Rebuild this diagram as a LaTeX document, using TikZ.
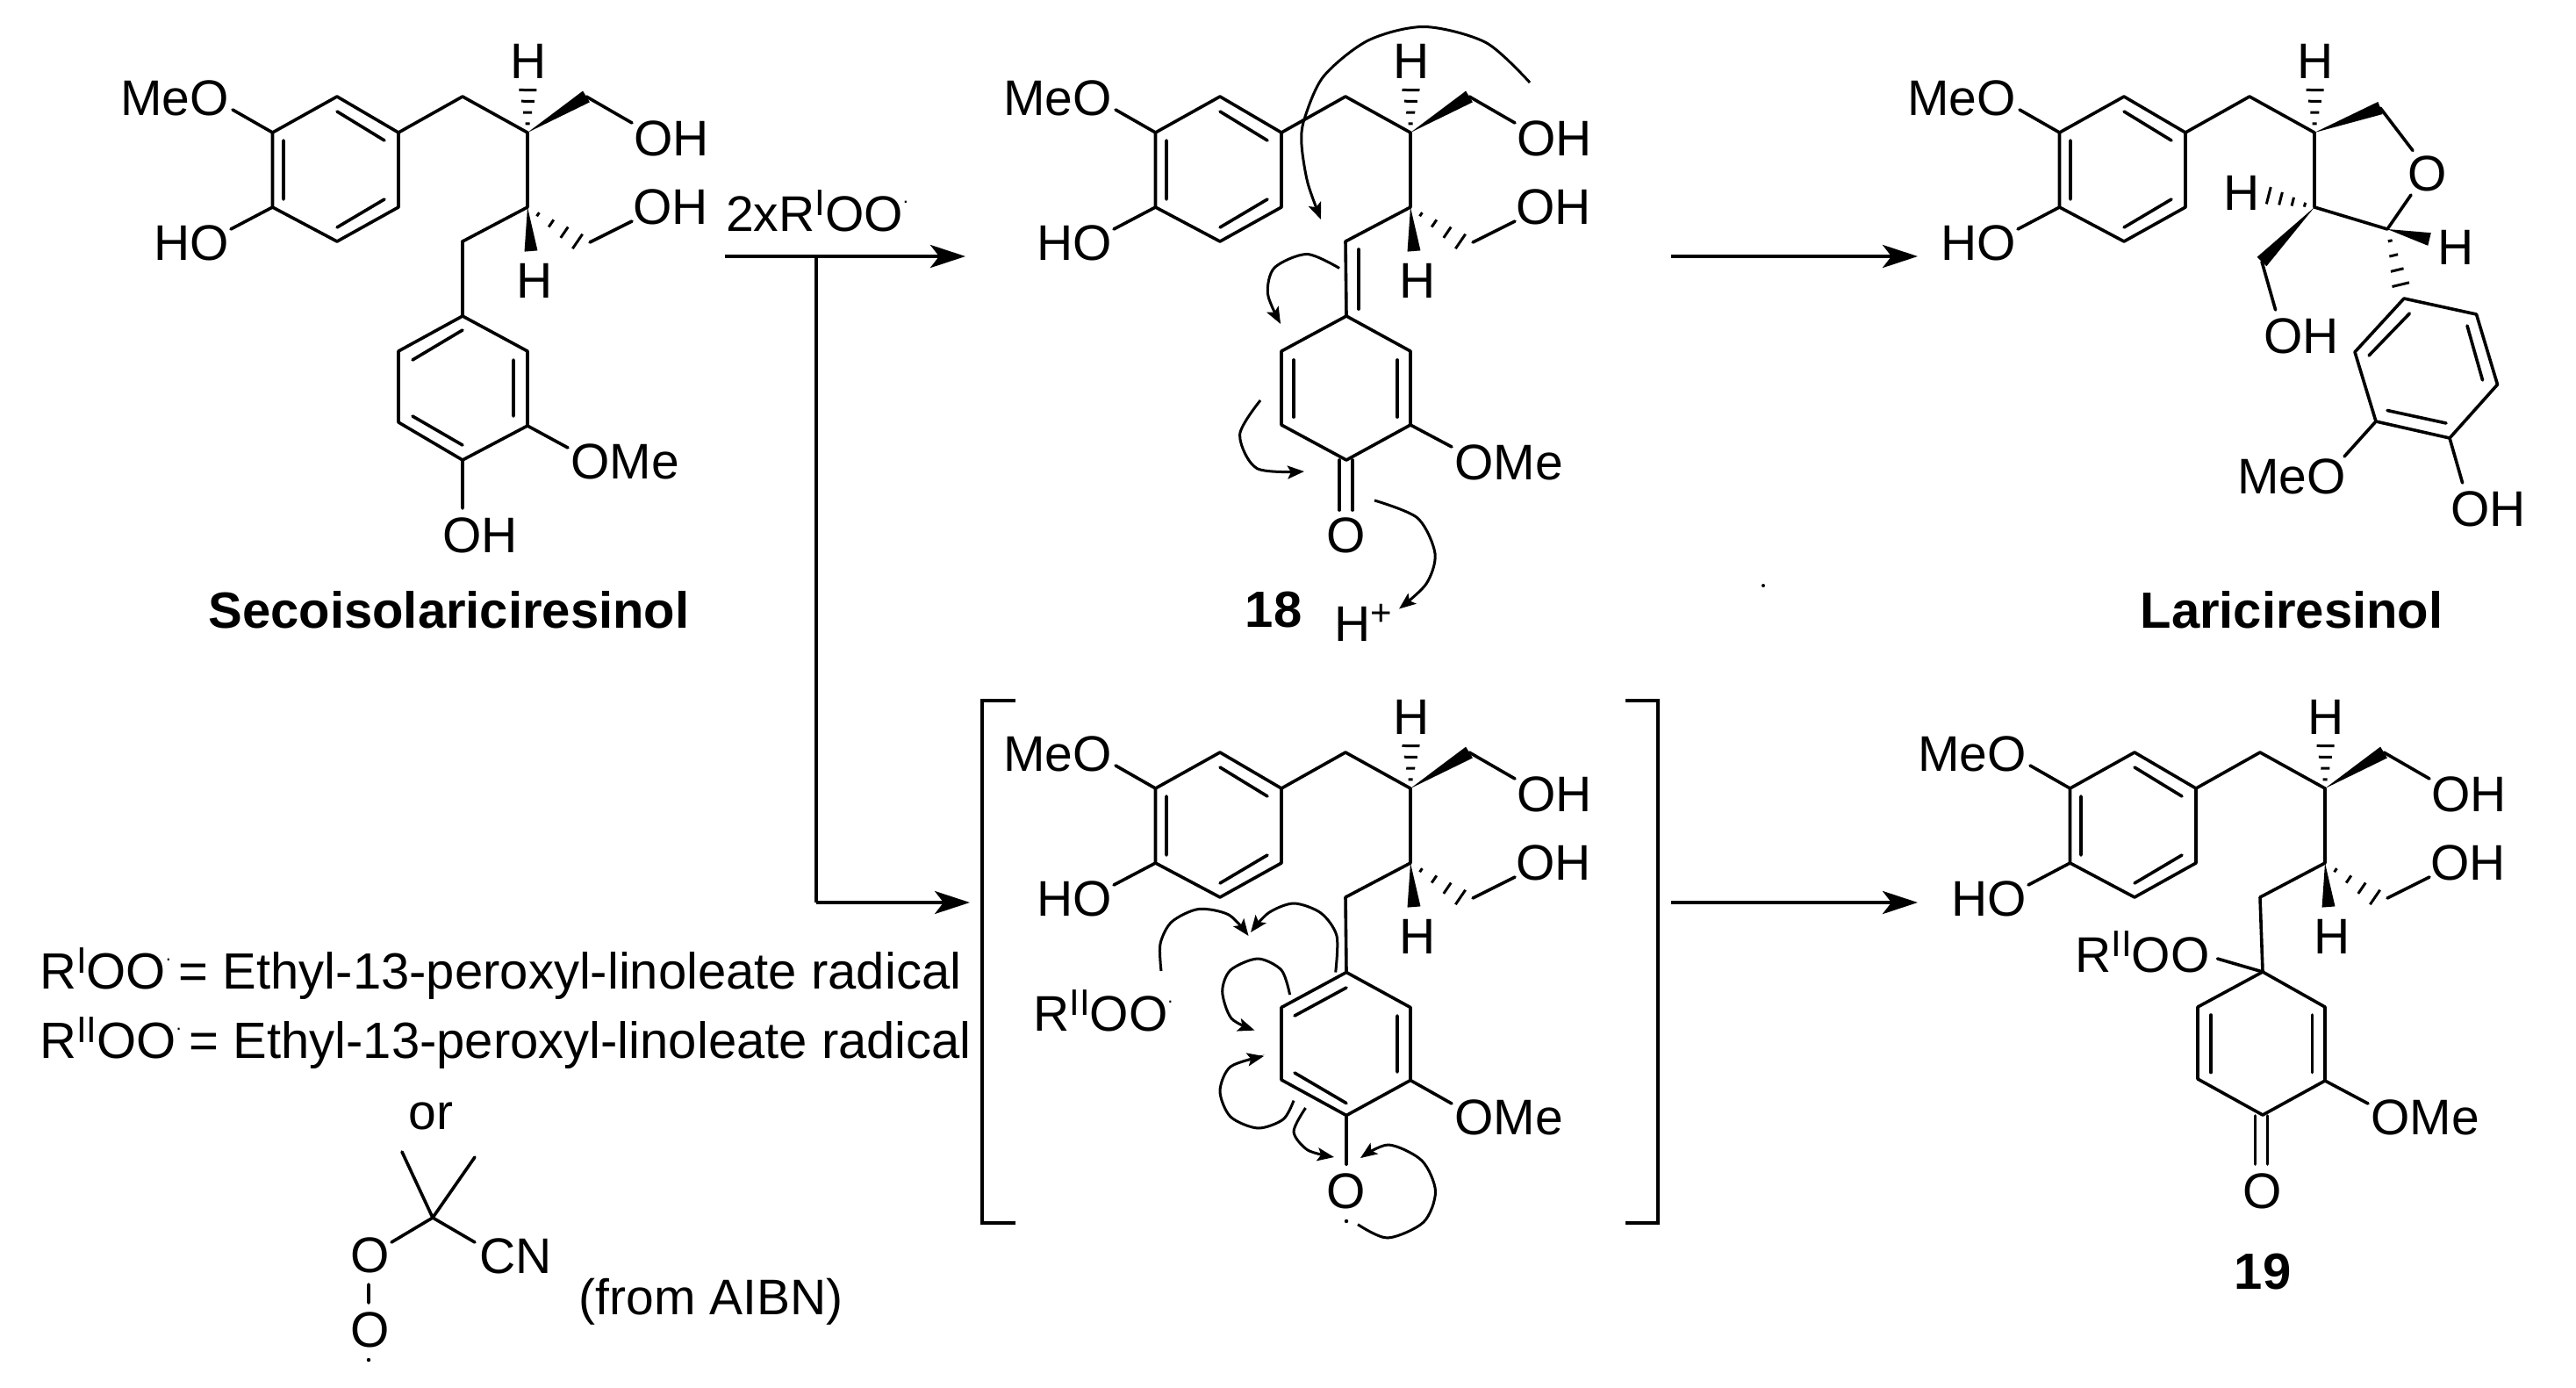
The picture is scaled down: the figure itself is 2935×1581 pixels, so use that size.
\documentclass[tikz,border=0pt]{standalone}
\usepackage{fontspec}
\setmainfont{Liberation Sans}
\usetikzlibrary{calc,arrows.meta}
\newcommand\chemsize{\fontsize{57}{60}\selectfont}
\newcommand\listsize{\fontsize{58}{62}\selectfont}
\newcommand\nameshape{\fontsize{58}{60}\selectfont\bfseries}
\newcommand\supr[1]{\raisebox{18pt}{\fontsize{42}{44}\selectfont #1}}
\newcommand\rdot{\rlap{\raisebox{32pt}{\fontsize{22}{22}\selectfont .}}}
\tikzset{
  bond/.style={line width=3.6pt,line cap=round,line join=round},
  hashline/.style={line width=3pt},
  lbl/.style={inner sep=0pt,font=\chemsize},
  namelbl/.style={inner sep=0pt,font=\nameshape},
  listlbl/.style={inner sep=0pt,font=\listsize,anchor=base west},
  mainarrow/.style={line width=4.4pt,-{Stealth[length=40pt,width=26pt,inset=10pt]}},
  curly/.style={line width=3pt,-{Stealth[length=19pt,width=15pt,inset=4pt]}},
  brack/.style={line width=4pt},
}
\newcommand\wedgeb[2]{\fill ($(#2)!7.5pt!90:(#1)$) -- (#1) -- ($(#2)!7.5pt!-90:(#1)$) -- cycle;}
\newcommand\hashb[2]{\foreach \hf/\hw in {.2/2.5,.45/5,.7/7.5,.95/10}{\coordinate (hh) at ($(#1)!\hf!(#2)$); \draw[hashline] ($(hh)!\hw pt!90:(#1)$) -- ($(hh)!\hw pt!-90:(#1)$);}}
% top aryl fragment, with the first stereocentre and the bond to the second
\newcommand\topfrag{%
  \coordinate (a1) at (310.5,151); \coordinate (a2) at (384,110); \coordinate (a3) at (454,151);
  \coordinate (a4) at (454,236); \coordinate (a5) at (384,275); \coordinate (a6) at (310.5,236);
  \coordinate (ch) at (527,110); \coordinate (c1) at (601,151); \coordinate (c2) at (601,236);
  \coordinate (ht) at (601.5,100);
  \node[lbl] (meo) at (199,112) {MeO};
  \node[lbl] (ho) at (218,277) {HO};
  \node[lbl] (h1) at (602,70) {H};
  \draw[bond] (a1) -- (a2) -- (a3) -- (a4) -- (a5) -- (a6) -- cycle;
  \draw[bond] (323,160) -- (323,227) (384,127) -- (438,160) (384,259) -- (438,227);
  \draw[bond] (a3) -- (ch) -- (c1) -- (c2);
  \draw[bond] (265,125) -- (a1) (263,261) -- (a6);
  \hashb{c1}{ht}
}
% the two CH2OH side chains
\newcommand\sidechains{%
  \coordinate (w1) at (668,110); \coordinate (e1) at (720,140);
  \coordinate (wb) at (605,286); \coordinate (hb) at (661,277);
  \coordinate (e2) at (672,276); \coordinate (e3) at (720,252); \coordinate (cb) at (527,275);
  \node[lbl] (oh1) at (765,158) {OH};
  \node[lbl] (oh2) at (764,236) {OH};
  \node[lbl] (h2) at (609,320) {H};
  \wedgeb{c1}{w1}
  \draw[bond] (w1) -- (e1) (e2) -- (e3) (c2) -- (cb);
  \wedgeb{c2}{wb}
  \hashb{c2}{hb}
}
\begin{document}
\begin{tikzpicture}[x=1pt,y=-1pt]
\useasboundingbox (0,0) rectangle (2935,1581);
\fill[white] (0,0) rectangle (2935,1581);

% ---------- Secoisolariciresinol
\begin{scope}[name prefix=ma-]
  \topfrag
  \sidechains
  \coordinate (b1) at (527,360); \coordinate (b2) at (601,400); \coordinate (b3) at (601,485);
  \coordinate (b4) at (527,524); \coordinate (b5) at (454,481); \coordinate (b6) at (454,400);
  \draw[bond] (cb) -- (b1);
  \draw[bond] (b1) -- (b2) -- (b3) -- (b4) -- (b5) -- (b6) -- cycle;
  \draw[bond] (470,410) -- (527,376) (585,410) -- (585,474) (470,474) -- (527,507);
  \node[lbl] (ome) at (712,526) {OMe};
  \node[lbl] (oh3) at (547,610) {OH};
  \draw[bond] (b3) -- (647,510) (b4) -- (527,579);
  \node[namelbl] (name) at (511.5,695) {Secoisolariciresinol};
\end{scope}

% ---------- 18
\begin{scope}[shift={(1006,0)},name prefix=mb-]
  \topfrag
  \sidechains
\end{scope}
\begin{scope}[name prefix=mb-]
  \coordinate (b1) at (1534,360); \coordinate (b2) at (1607,400); \coordinate (b3) at (1607,484);
  \coordinate (b4) at (1534,524); \coordinate (b5) at (1460,484); \coordinate (b6) at (1460,400);
  \draw[bond] (cb) -- (b1);
  \draw[bond] (b1) -- (b2) -- (b3) -- (b4) -- (b5) -- (b6) -- cycle;
  \draw[bond] (1548,284) -- (1548,352) (1474,410) -- (1474,475) (1592,410) -- (1592,475);
  \draw[bond] (1526,524) -- (1526,581) (1541,524) -- (1541,581);
  \node[lbl] (o) at (1534,610) {O};
  \node[lbl] (ome) at (1719,527) {OMe};
  \draw[bond] (b3) -- (1654,509);
  \node[namelbl] (name) at (1451,694.5) {18};
  \node[lbl,anchor=base west] (hp) at (1520,730) {H\supr{+}};
  \draw[curly] plot[smooth] coordinates {(1743,94) (1693,48.5) (1623,30.5) (1559,46) (1508,87) (1486,136) (1483,165) (1490,208.5) (1505,250)};
  \draw[curly] plot[smooth] coordinates {(1526,305.5) (1489,289.5) (1452,305) (1444.5,335) (1459,369)};
  \draw[curly] plot[smooth] coordinates {(1436,456) (1412.6,495) (1432,533.5) (1486,537)};
  \draw[curly] plot[smooth] coordinates {(1566,570) (1615,590) (1635,630.5) (1625,665) (1594,693.5)};
\end{scope}
\fill (2009,667) circle (2);

% ---------- Lariciresinol
\begin{scope}[shift={(2036,0)},name prefix=mc-]
  \topfrag
\end{scope}
\begin{scope}[name prefix=mc-]
  \coordinate (f1) at (2712,123); \coordinate (f2) at (2720,261); \coordinate (w2) at (2577,298);
  \coordinate (hl) at (2582,222); \coordinate (wh) at (2768,272.5); \coordinate (hr) at (2736,327.5);
  \coordinate (r1) at (2739,340); \coordinate (r2) at (2821.5,358); \coordinate (r3) at (2845.5,438);
  \coordinate (r4) at (2791,499); \coordinate (r5) at (2707,480); \coordinate (r6) at (2683,401);
  \node[lbl] (o) at (2765.6,197.6) {O};
  \node[lbl] (hleft) at (2553.7,220) {H};
  \node[lbl] (hright) at (2797.6,281.6) {H};
  \node[lbl] (oh1) at (2622,382.6) {OH};
  \node[lbl] (meob) at (2611,543) {MeO};
  \node[lbl] (oh2) at (2835,580) {OH};
  \wedgeb{c1}{f1}
  \draw[bond] (f1) -- (2749,171.5) (2747,222) -- (f2) -- (c2);
  \hashb{c2}{hl}
  \wedgeb{c2}{w2}
  \draw[bond] (w2) -- (2592.6,353);
  \wedgeb{f2}{wh}
  \hashb{f2}{hr}
  \draw[bond] (r1) -- (r2) -- (r3) -- (r4) -- (r5) -- (r6) -- cycle;
  \draw[bond] (2699,405) -- (2745.4,357) (2811,371) -- (2828.5,433) (2720,467.5) -- (2787,482);
  \draw[bond] (r5) -- (2671,520) (r4) -- (2805.6,550);
  \node[namelbl] (name) at (2611,695) {Lariciresinol};
\end{scope}

% ---------- bracketed intermediate
\begin{scope}[shift={(1006,747)},name prefix=md-]
  \topfrag
  \sidechains
\end{scope}
\begin{scope}[name prefix=md-]
  \coordinate (b1) at (1534,1107.5); \coordinate (b2) at (1607,1147.5); \coordinate (b3) at (1607,1230.5);
  \coordinate (b4) at (1534,1270.5); \coordinate (b5) at (1460,1230); \coordinate (b6) at (1460,1147.5);
  \draw[bond] (cb) -- (b1);
  \draw[bond] (b1) -- (b2) -- (b3) -- (b4) -- (b5) -- (b6) -- cycle;
  \draw[bond] (1475,1157) -- (1534,1125) (1592,1157) -- (1592,1221) (1475,1222) -- (1534,1256.6);
  \node[lbl] (ome) at (1719,1273) {OMe};
  \node[lbl] (o) at (1534,1357) {O};
  \fill (1534,1391) circle (2.2);
  \draw[bond] (b3) -- (1654,1257) (b4) -- (1534,1326.5);
  \node[lbl,anchor=base west] (roo) at (1177,1174) {R\supr{II}OO\rdot};
  \draw[brack] (1157,798) -- (1119,798) -- (1119,1392.6) -- (1157,1392.6);
  \draw[brack] (1852,798) -- (1889,798) -- (1889,1392.6) -- (1852,1392.6);
  \draw[curly] plot[smooth] coordinates {(1323,1106) (1322,1075) (1335,1050) (1365.6,1035.5) (1400,1042) (1422.5,1066)};
  \draw[curly] plot[smooth] coordinates {(1521.7,1107.5) (1523,1066) (1505,1040) (1474,1029) (1445,1040) (1425,1062)};
  \draw[curly] plot[smooth] coordinates {(1469.6,1133) (1460,1105) (1433,1092) (1402,1105) (1392.7,1129.4) (1403,1160) (1429.5,1173.6)};
  \draw[curly] plot[smooth] coordinates {(1474,1253.6) (1462,1275) (1433,1285) (1402,1272) (1390,1243) (1402,1215) (1440,1203)};
  \draw[curly] plot[smooth] coordinates {(1487.5,1262) (1474,1289) (1490,1310) (1520,1318)};
  \draw[curly] plot[smooth] coordinates {(1547,1394.7) (1581,1410) (1622,1392) (1635.5,1357) (1620,1322) (1582,1304) (1550,1319)};
\end{scope}

% ---------- 19
\begin{scope}[shift={(2048,747)},name prefix=me-]
  \topfrag
  \sidechains
\end{scope}
\begin{scope}[name prefix=me-]
  \coordinate (b1) at (2578,1107); \coordinate (b2) at (2649,1147); \coordinate (b3) at (2649,1231);
  \coordinate (b4) at (2578,1270); \coordinate (b5) at (2504,1229); \coordinate (b6) at (2504,1147);
  \draw[bond] (cb) -- (b1);
  \draw[bond] (b1) -- (b2) -- (b3) -- (b4) -- (b5) -- (b6) -- cycle;
  \draw[bond] (2519,1156) -- (2519,1221.6) (2634.6,1156) -- (2634.6,1221.6);
  \draw[bond] (2569.5,1271) -- (2569.5,1326) (2583.5,1271) -- (2583.5,1326);
  \draw[bond] (b3) -- (2698,1257) (b1) -- (2526.5,1092);
  \node[lbl] (o) at (2578,1357) {O};
  \node[lbl] (ome) at (2763,1273) {OMe};
  \node[lbl,anchor=base west] (roo) at (2364,1107) {R\supr{II}OO};
  \node[namelbl] (name) at (2578,1449) {19};
\end{scope}

% ---------- reaction arrows
\coordinate (s1) at (826,292); \coordinate (t1) at (1100,292);
\coordinate (j1) at (930,292); \coordinate (j2) at (930,1028); \coordinate (t2) at (1105,1028);
\coordinate (s3) at (1904,292); \coordinate (t3) at (2185,292);
\coordinate (s4) at (1904,1028); \coordinate (t4) at (2185,1028);
\node[lbl,anchor=base west] (reag) at (827,263) {2xR\supr{I}OO\rdot};
\draw[mainarrow] (s1) -- (t1);
\draw[line width=3.4pt] (j1) -- (j2);
\draw[mainarrow,line width=3.4pt] (j2) -- (t2);
\draw[mainarrow] (s3) -- (t3);
\draw[mainarrow] (s4) -- (t4);

% ---------- legend
\node[listlbl] (l1) at (45,1126) {R\supr{I}OO\rdot\hspace{15pt}= Ethyl-13-peroxyl-linoleate radical};
\node[listlbl] (l2) at (45,1205) {R\supr{II}OO\rdot\hspace{15pt}= Ethyl-13-peroxyl-linoleate radical};
\node[lbl] (or) at (491,1271) {or};
\coordinate (aibn) at (493,1387);
\node[lbl] (ao1) at (422,1430) {O};
\node[lbl] (acn) at (588,1431) {CN};
\node[lbl] (ao2) at (422,1515) {O};
\fill (420,1549) circle (2.2);
\node[lbl] (from) at (810,1483) {(from AIBN)};
\draw[bond] (458,1312) -- (aibn) -- (541,1318) (aibn) -- (446,1415) (aibn) -- (541,1415) (420,1463) -- (420,1484);
\end{tikzpicture}
\end{document}
